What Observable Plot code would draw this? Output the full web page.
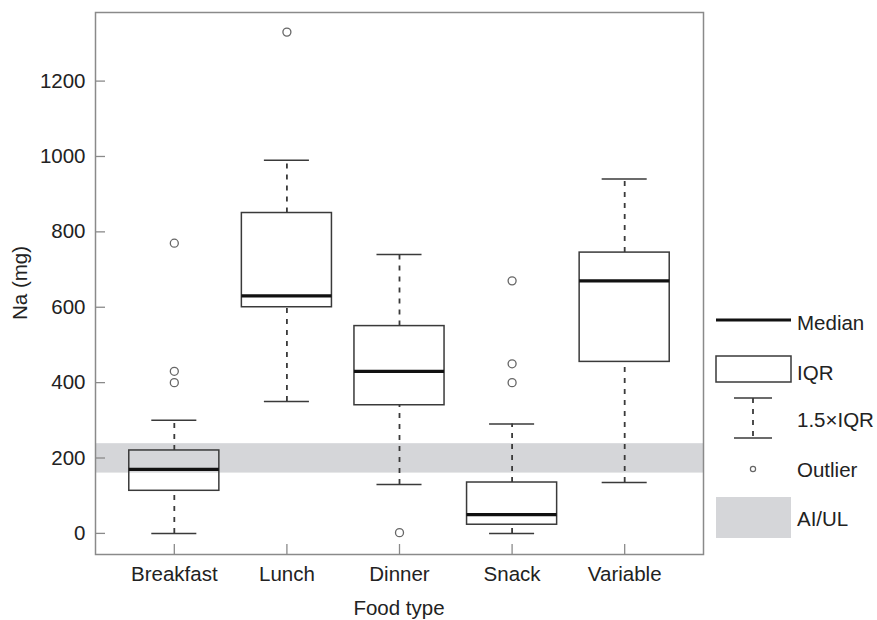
<!DOCTYPE html>
<html><head><meta charset="utf-8">
<script src="https://cdn.jsdelivr.net/npm/d3@7"></script>
<script src="https://cdn.jsdelivr.net/npm/@observablehq/plot@0.6"></script>
<style>body{margin:0;background:#fff;}</style>
</head><body><div id="chart"></div>
<script>
// ---- data ----
const categories = ["Breakfast", "Lunch", "Dinner", "Snack", "Variable"];
const whiskerLow  = [0,   350, 130, 0,   135];
const q1          = [113, 600, 340, 23,  455];
const median      = [170, 630, 430, 50,  670];
const q3          = [220, 850, 550, 135, 745];
const whiskerHigh = [300, 990, 740, 290, 940];
const outlierCategory = ["Breakfast", "Breakfast", "Breakfast", "Lunch", "Dinner", "Snack", "Snack", "Snack"];
const outlierValue    = [400, 430, 770, 1330, 2, 400, 450, 670];
const aiulBand = [160, 238];
const yTicks = [0, 200, 400, 600, 800, 1000, 1200];
const legendLabels = ["Median", "IQR", "1.5\u00d7IQR", "Outlier", "AI/UL"];

// ---- derived tables ----
const boxes = categories.map((c, i) => ({cat: c, x: i + 1, lo: whiskerLow[i], q1: q1[i], med: median[i], q3: q3[i], hi: whiskerHigh[i]}));
const outliers = outlierCategory.map((c, i) => ({x: categories.indexOf(c) + 1, v: outlierValue[i]}));
const band = [{y1: aiulBand[0], y2: aiulBand[1]}];

const W = 877, H = 620, mL = 95, mR = 174, mT = 12, mB = 66;
const boxHalf = 0.4, capHalf = 0.2;
const FONT = "Liberation Sans, Arial, Helvetica, sans-serif";
const FS = 20.5;
const boxStroke = "#3a3a3a", frameStroke = "#8a8a8a", bandFill = "#d5d6d9", dash = "5,6";

const svg = Plot.plot({
  width: W, height: H,
  marginLeft: mL, marginRight: mR, marginTop: mT, marginBottom: mB,
  style: {fontFamily: FONT, fontSize: FS + "px", color: "#222", background: "#fff"},
  x: {type: "linear", domain: [0.3, 5.7]},
  y: {domain: [-56, 1382]},
  marks: [
    Plot.rect(band, {y1: "y1", y2: "y2", fill: bandFill}),
    Plot.ruleX(boxes, {x: "x", y1: "q3", y2: "hi", stroke: boxStroke, strokeWidth: 1.8, strokeDasharray: dash}),
    Plot.ruleX(boxes, {x: "x", y1: "lo", y2: "q1", stroke: boxStroke, strokeWidth: 1.8, strokeDasharray: dash}),
    Plot.ruleY(boxes, {y: "hi", x1: d => d.x - capHalf, x2: d => d.x + capHalf, stroke: boxStroke, strokeWidth: 1.5}),
    Plot.ruleY(boxes, {y: "lo", x1: d => d.x - capHalf, x2: d => d.x + capHalf, stroke: boxStroke, strokeWidth: 1.5}),
    Plot.rect(boxes, {x1: d => d.x - boxHalf, x2: d => d.x + boxHalf, y1: "q1", y2: "q3", fill: "none", stroke: boxStroke, strokeWidth: 1.5}),
    Plot.ruleY(boxes, {y: "med", x1: d => d.x - boxHalf, x2: d => d.x + boxHalf, stroke: "#111", strokeWidth: 3.2}),
    Plot.dot(outliers, {x: "x", y: "v", r: 4, stroke: "#666", strokeWidth: 1.3, fill: "none"}),
    Plot.frame({stroke: frameStroke, strokeWidth: 1.5}),
    // inward ticks
    Plot.axisY(yTicks, {anchor: "left", tickSize: 10, dx: 10, tickFormat: () => "", label: null, stroke: frameStroke, strokeWidth: 1.3}),
    Plot.axisX(boxes.map(d => d.x), {anchor: "bottom", tickSize: 10, dy: -10, tickFormat: () => "", label: null, stroke: frameStroke, strokeWidth: 1.3}),
    // tick labels
    Plot.axisY(yTicks, {anchor: "left", tickSize: 0, tickPadding: 10, tickFormat: d => String(d), label: null, fontSize: FS, fill: "#222"}),
    Plot.axisX(boxes.map(d => d.x), {anchor: "bottom", tickSize: 0, tickPadding: 11.5, tickFormat: d => categories[d - 1], label: null, fontSize: FS, fill: "#222"})
  ]
});

const s = d3.select(svg);
// axis titles
s.append("text").attr("x", (mL + W - mR) / 2).attr("y", 615)
  .attr("text-anchor", "middle").attr("font-family", FONT).attr("font-size", FS).attr("fill", "#222").text("Food type");
s.append("text").attr("transform", `translate(27,${(mT + H - mB) / 2}) rotate(-90)`)
  .attr("text-anchor", "middle").attr("font-family", FONT).attr("font-size", FS).attr("fill", "#222").text("Na (mg)");

// legend
const lg = s.append("g").attr("text-anchor", "start");
const lx0 = 716, lx1 = 791, lc = 753, tx = 797;
lg.append("line").attr("x1", lx0).attr("x2", lx1).attr("y1", 320).attr("y2", 320).attr("stroke", "#111").attr("stroke-width", 3.2);
lg.append("rect").attr("x", lx0).attr("y", 356).attr("width", lx1 - lx0).attr("height", 26).attr("fill", "none").attr("stroke", boxStroke).attr("stroke-width", 1.5);
lg.append("line").attr("x1", 734).attr("x2", 772).attr("y1", 398).attr("y2", 398).attr("stroke", boxStroke).attr("stroke-width", 1.5);
lg.append("line").attr("x1", 734).attr("x2", 772).attr("y1", 438).attr("y2", 438).attr("stroke", boxStroke).attr("stroke-width", 1.5);
lg.append("line").attr("x1", lc).attr("x2", lc).attr("y1", 398).attr("y2", 438).attr("stroke", boxStroke).attr("stroke-width", 1.8).attr("stroke-dasharray", dash);
lg.append("circle").attr("cx", lc).attr("cy", 469).attr("r", 2.6).attr("fill", "none").attr("stroke", "#666").attr("stroke-width", 1.2);
lg.append("rect").attr("x", lx0).attr("y", 497).attr("width", lx1 - lx0).attr("height", 41).attr("fill", bandFill);
const ly = [330, 380, 427, 476.5, 525.5];
legendLabels.forEach((t, i) => {
  lg.append("text").attr("x", tx).attr("y", ly[i]).attr("text-anchor", "start").attr("font-family", FONT).attr("font-size", FS).attr("fill", "#222").text(t);
});

document.getElementById("chart").appendChild(svg);
</script>
</body></html>
